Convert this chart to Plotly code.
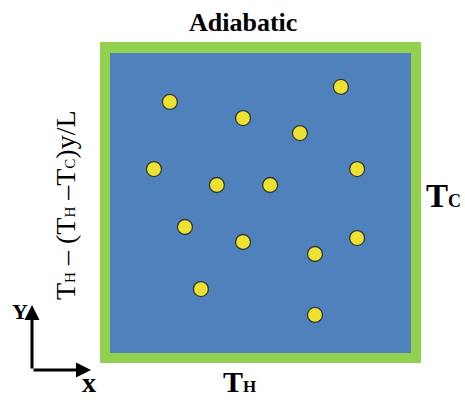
import plotly.graph_objects as go

# Particle centres inside the unit cavity (x to the right, y upward)
particle_x = [0.199, 0.767, 0.442, 0.631, 0.146, 0.821, 0.355,
              0.532, 0.249, 0.442, 0.821, 0.681, 0.302, 0.681]
particle_y = [0.837, 0.887, 0.783, 0.733, 0.613, 0.613, 0.560,
              0.560, 0.420, 0.370, 0.383, 0.330, 0.213, 0.127]

# Boundary condition labels
label_top = "Adiabatic"
label_right = ("T", "C")
label_bottom = ("T", "H")

SERIF = "Liberation Serif, Times New Roman, serif"
BLUE = "#4F81BD"
GREEN = "#92D050"
YELLOW = "#EFE12F"

W, H = 465, 401
# pixel placement of the unit cavity
X0, X1 = 110, 411
Y0, Y1 = 353, 53
sx = (X1 - X0)
sy = (Y0 - Y1)
x_range = [-X0 / sx, (W - X0) / sx]
y_range = [-(H - Y0) / sy, Y0 / sy]
wall = 10 / sx  # thickness of the wall band


def sub(main, s, small):
    return f"{main}<span style='font-size:{small}px'>{s}</span>"


fig = go.Figure()

# wall band and fluid region
fig.add_shape(type="rect", x0=-wall, x1=1 + wall, y0=-wall, y1=1 + 11 / sy,
              fillcolor=GREEN, line_width=0, layer="below")
fig.add_shape(type="rect", x0=0, x1=1, y0=0, y1=1,
              fillcolor=BLUE, line_width=0, layer="below")

fig.add_trace(go.Scatter(
    x=particle_x, y=particle_y, mode="markers",
    marker=dict(size=15, color=YELLOW,
                line=dict(color="#2f3b3b", width=1.3)),
    hoverinfo="skip", showlegend=False))

bold = dict(family=SERIF, color="black", weight="bold")

ann = []
ann.append(dict(x=0.442, y=1.103, text=label_top, showarrow=False,
                font=dict(size=26, **bold), xanchor="center", yanchor="middle"))
ann.append(dict(x=(424 - X0) / sx, y=(Y0 - 196) / sy,
                text=sub(*label_right, 18), showarrow=False,
                font=dict(size=33, **bold), xanchor="left", yanchor="middle"))
ann.append(dict(x=(221 - X0) / sx, y=-(381 - Y0) / sy,
                text=sub(*label_bottom, 17), showarrow=False,
                font=dict(size=30, **bold), xanchor="left", yanchor="middle"))
left_text = (sub("T", "H", 15) + " – (" + sub("T", "H", 15)
             + " –" + sub("T", "C", 15) + ")y/L")
ann.append(dict(x=(65 - X0) / sx, y=(Y0 - 205) / sy, text=left_text,
                showarrow=False, textangle=-90,
                font=dict(size=28, family=SERIF, color="black"),
                xanchor="center", yanchor="middle"))

# coordinate axes glyph
ox, oy = (32 - X0) / sx, -(370 - Y0) / sy
ann.append(dict(x=ox, y=(Y0 - 305) / sy, ax=ox, ay=oy, axref="x", ayref="y",
                xref="x", yref="y", text="", showarrow=True,
                arrowhead=2, arrowsize=1, arrowwidth=3, arrowcolor="black"))
ann.append(dict(x=(91 - X0) / sx, y=oy, ax=ox, ay=oy, axref="x", ayref="y",
                xref="x", yref="y", text="", showarrow=True,
                arrowhead=2, arrowsize=1, arrowwidth=3, arrowcolor="black"))
ann.append(dict(x=(20 - X0) / sx, y=(Y0 - 311) / sy, text="Y", showarrow=False,
                font=dict(size=22, **bold), xanchor="center", yanchor="middle"))
ann.append(dict(x=(89 - X0) / sx, y=-(382 - Y0) / sy, text="x", showarrow=False,
                font=dict(size=28, **bold), xanchor="center", yanchor="middle"))

fig.update_layout(
    width=W, height=H, margin=dict(l=0, r=0, t=0, b=0),
    paper_bgcolor="white", plot_bgcolor="white",
    xaxis=dict(range=x_range, visible=False, fixedrange=True),
    yaxis=dict(range=y_range, visible=False, fixedrange=True),
    annotations=ann, showlegend=False,
)

fig.write_html("out.html")
